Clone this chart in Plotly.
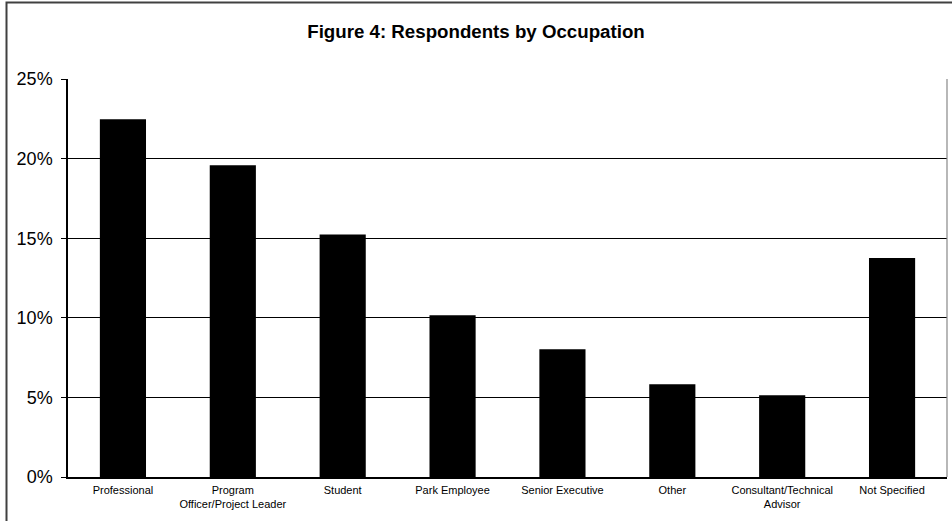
import plotly.graph_objects as go

categories = ["Professional", "Program<br>Officer/Project Leader", "Student", "Park Employee",
              "Senior Executive", "Other", "Consultant/Technical<br>Advisor", "Not Specified"]
values = [22.47, 19.58, 15.24, 10.16, 8.02, 5.82, 5.13, 13.76]
y_ticks = [0, 5, 10, 15, 20, 25]
y_tick_labels = ["0%", "5%", "10%", "15%", "20%", "25%"]
title_text = "Figure 4: Respondents by Occupation"

W, H = 952, 521
L, R, T, B = 68, 5, 79, 44
pw = W - L - R
ph = H - T - B

fig = go.Figure(go.Bar(x=categories, y=values, marker=dict(color="black", line=dict(width=0)),
                       width=0.42, hoverinfo="skip"))

fig.update_layout(
    width=W, height=H,
    margin=dict(l=L, r=R, t=T, b=B),
    paper_bgcolor="white", plot_bgcolor="white",
    font=dict(family="Liberation Sans, Arial, sans-serif", color="black"),
    title=dict(text="<b>" + title_text + "</b>", x=0.5, xref="container", xanchor="center",
               y=1 - 31 / H, yref="container", yanchor="middle",
               font=dict(size=18.7, color="black")),
    showlegend=False,
    xaxis=dict(showline=True, linecolor="black", linewidth=1.5, ticks="", showgrid=False,
               tickfont=dict(size=11), tickangle=0, ticklabelstandoff=2, fixedrange=True),
    yaxis=dict(range=[0, 25], tickvals=y_ticks, ticktext=y_tick_labels,
               showline=True, linecolor="black", linewidth=1.5,
               ticks="outside", ticklen=5, tickcolor="black", tickwidth=1,
               showgrid=True, gridcolor="black", gridwidth=1.2, zeroline=False,
               tickfont=dict(size=18), ticklabelstandoff=5, fixedrange=True),
    shapes=[
        # right edge of plot area
        dict(type="line", xref="paper", yref="paper", x0=1, x1=1, y0=0, y1=1,
             line=dict(color="#888888", width=1.2)),
        # outer chart border (left and top edges visible)
        dict(type="rect", xref="paper", yref="paper",
             x0=(6.5 - L) / pw, x1=1.2, y0=-0.3, y1=(T + ph - 2.5) / ph,
             line=dict(color="#404040", width=2), fillcolor="rgba(0,0,0,0)"),
    ],
)

fig.write_html("out.html", config={"displayModeBar": False},
               post_script="document.body.style.margin='0';document.body.style.overflow='hidden';")
